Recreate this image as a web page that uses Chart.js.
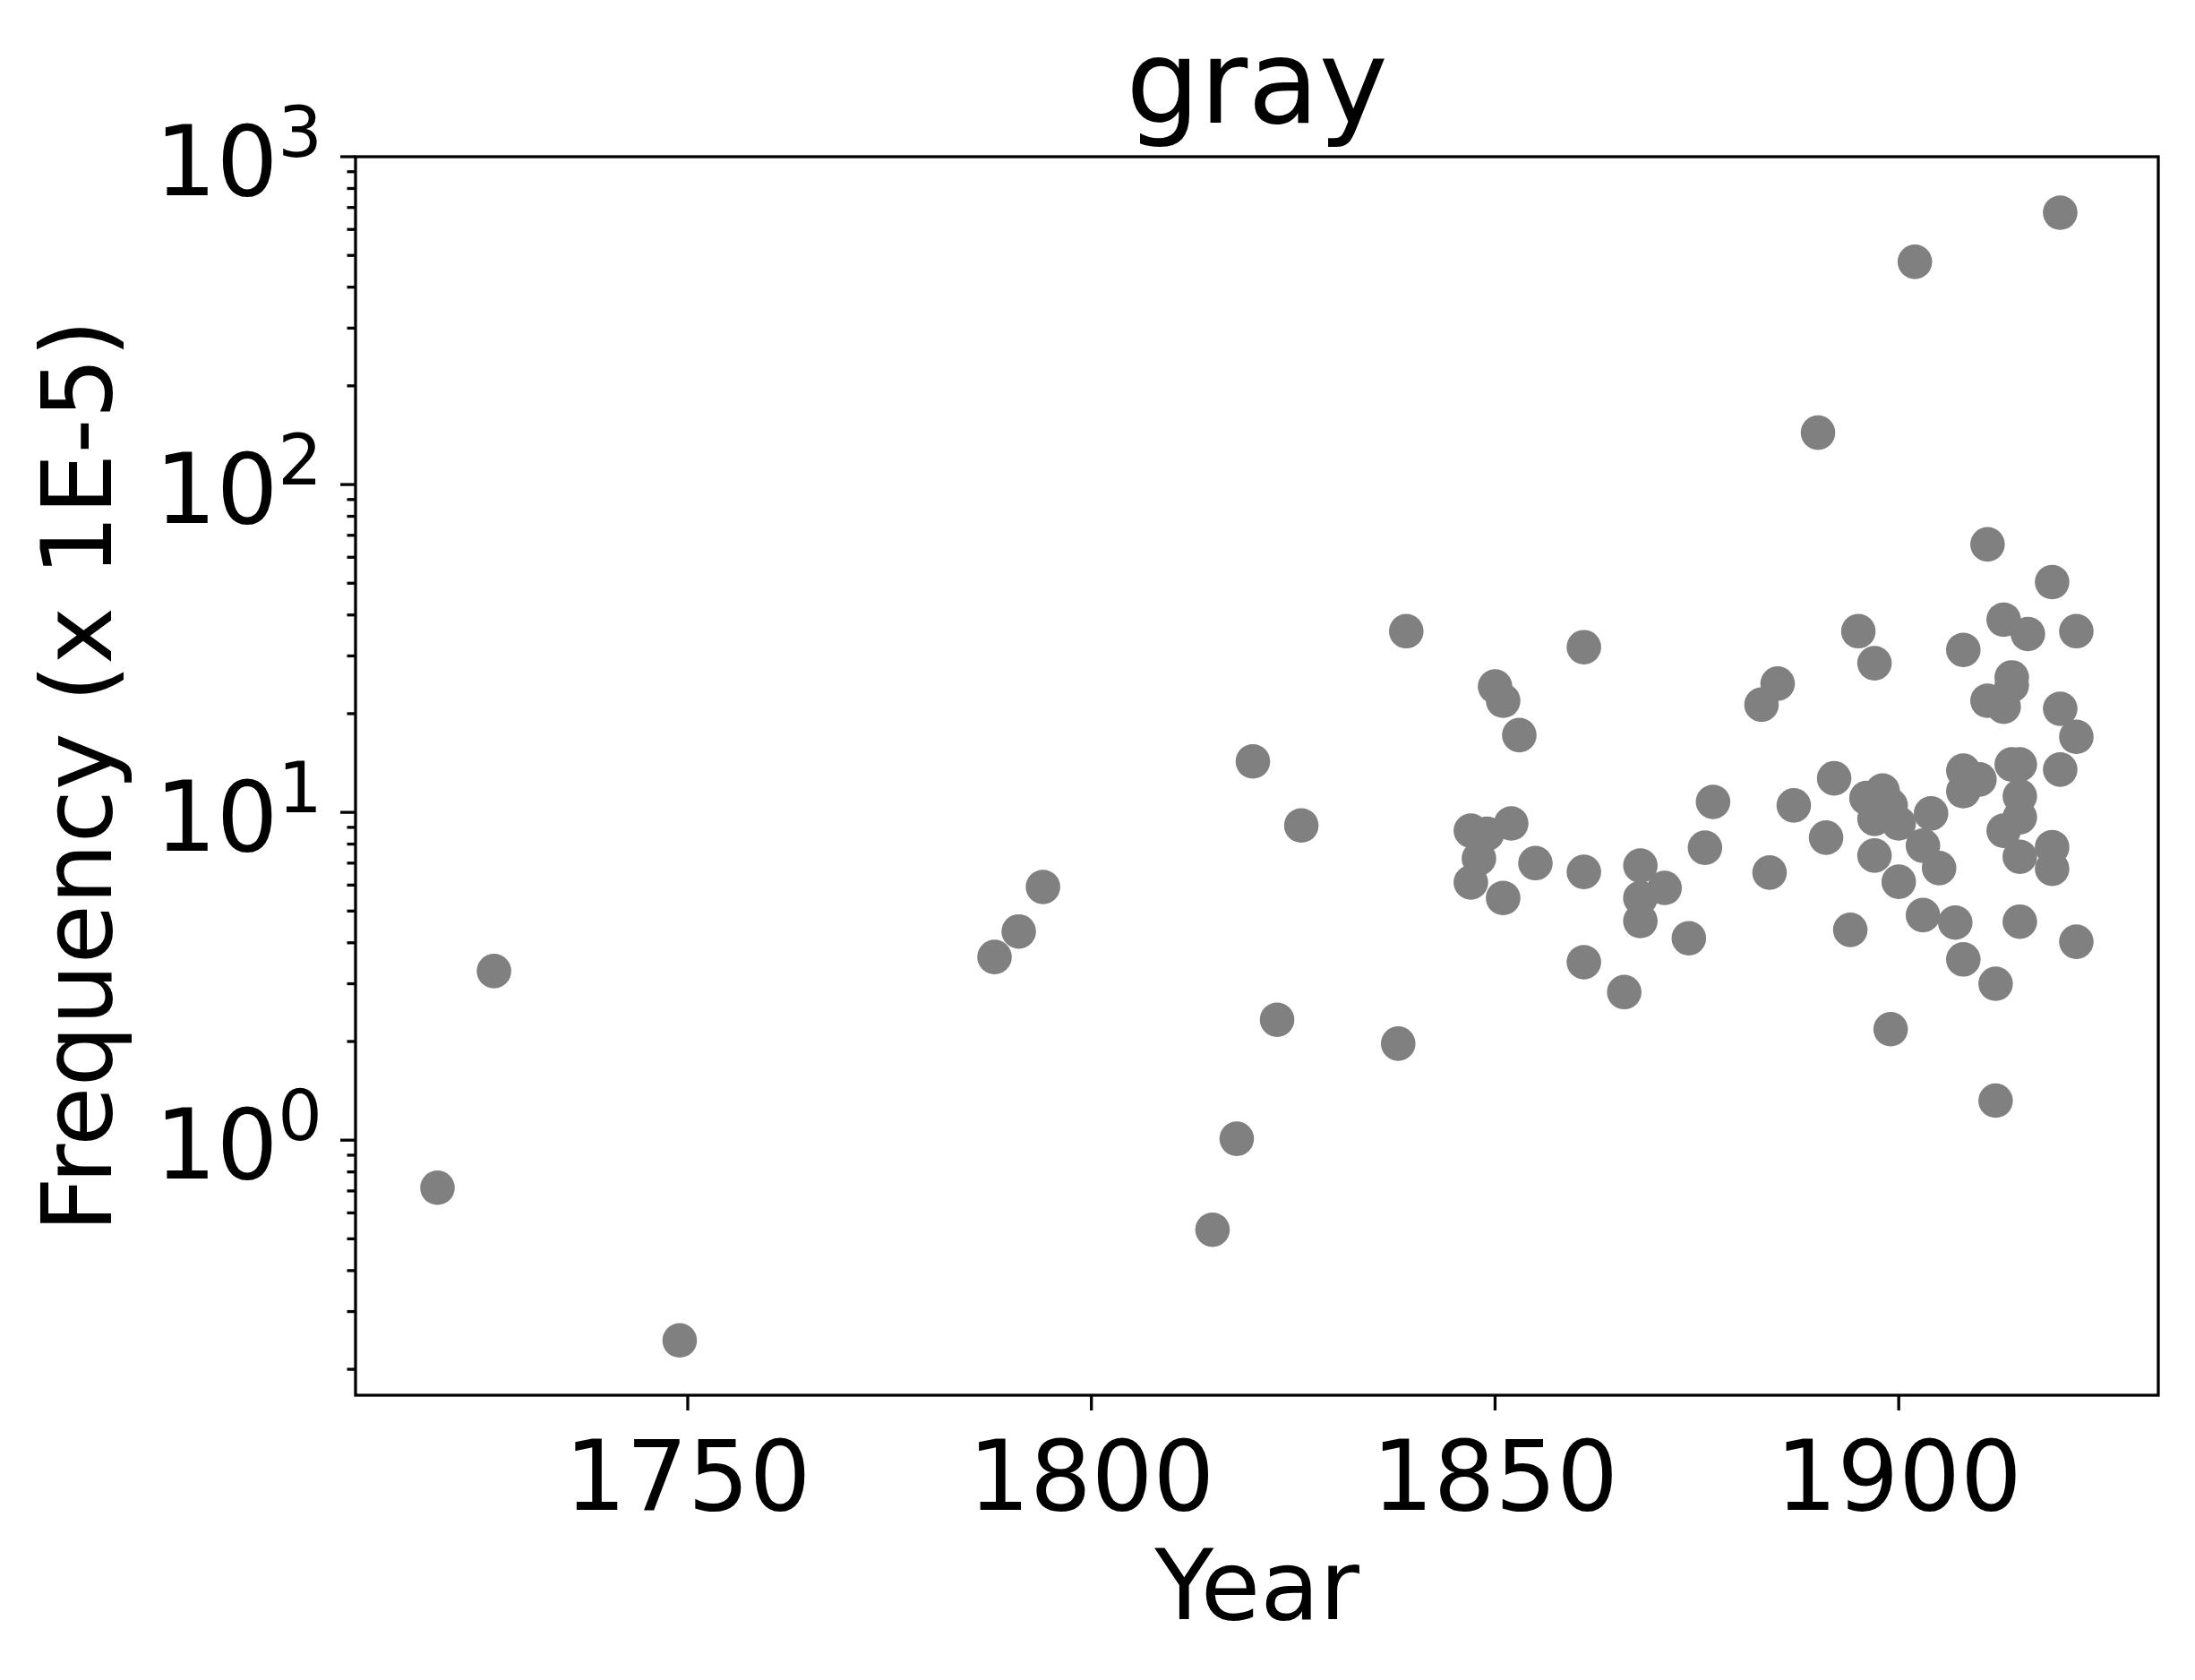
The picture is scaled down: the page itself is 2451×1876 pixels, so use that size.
<!DOCTYPE html>
<html>
<head>
<meta charset="utf-8">
<title>gray</title>
<script src="https://cdn.jsdelivr.net/npm/chart.js@4.4.0/dist/chart.umd.min.js"></script>
<style>
  html, body { margin: 0; padding: 0; background: #fff; }
  #wrap { width: 2451px; height: 1876px; }
</style>
</head>
<body>
<div id="wrap"><canvas id="grayChart" width="2451" height="1876"></canvas></div>
<script>
// values: year and frequency (x 1E-5)
const years = [
  1719, 1726, 1749, 1788, 1791, 1794, 1815, 1818, 1820, 1823,
  1826, 1838, 1839, 1847, 1849, 1852, 1848, 1847, 1850, 1851,
  1853, 1851, 1855, 1861, 1861, 1861, 1866, 1868, 1868, 1868,
  1871, 1874, 1876, 1877, 1883, 1884, 1885, 1887, 1890, 1891,
  1892, 1894, 1895, 1896, 1897, 1897, 1897, 1898, 1899, 1899,
  1900, 1900, 1902, 1903, 1903, 1904, 1905, 1907, 1908, 1908,
  1908, 1908, 1910, 1911, 1911, 1912, 1912, 1913, 1913, 1913,
  1914, 1914, 1914, 1915, 1915, 1915, 1915, 1915, 1916, 1919,
  1919, 1919, 1920, 1920, 1920, 1922, 1922, 1922
];
const freqs = [
  0.716, 3.28, 0.245, 3.62, 4.33, 5.92, 0.533, 1.01, 14.3, 2.33,
  9.12, 1.97, 35.7, 8.79, 8.60, 9.25, 7.23, 6.11, 24.2, 21.9,
  17.2, 5.48, 7.00, 31.9, 6.58, 3.49, 2.83, 6.88, 5.48, 4.66,
  5.88, 4.13, 7.80, 10.76, 21.3, 6.55, 24.7, 10.5, 144, 8.37,
  12.7, 4.38, 35.7, 11.06, 28.5, 7.38, 9.55, 11.65, 10.5, 2.18,
  9.25, 6.14, 478, 7.91, 4.86, 9.92, 6.76, 4.61, 31.3, 13.4,
  11.6, 3.56, 12.6, 65.7, 21.9, 3.00, 1.32, 38.7, 21.0, 8.79,
  25.8, 24.4, 14.0, 14.0, 11.2, 9.66, 7.32, 4.64, 35.0, 50.4,
  7.83, 6.73, 675, 20.7, 13.5, 35.7, 17.0, 4.03
];
const xTicks = [1750, 1800, 1850, 1900];
const yMajorTicks = [1, 10, 100, 1000];
const yMinorSteps = [2, 3, 4, 5, 6, 7, 8, 9];

const xMin = 1708.85, xMax = 1932.15;
const yMin = 0.1667, yMax = 1000;
const FONT = 'DejaVu Sans';

const points = years.map((x, i) => ({ x: x, y: freqs[i] }));

// log axis ticks: decades plus 2..9 in between
const yTickValues = [];
[0.1, 1, 10, 100].forEach(d => {
  yMinorSteps.forEach(s => {
    const v = +(d * s).toPrecision(3);
    if (v >= yMin) yTickValues.push(v);
  });
});
yMajorTicks.forEach(v => yTickValues.push(v));
yTickValues.sort((a, b) => a - b);

// box around the plot, tick marks (minor ones shorter), 10^n labels with a real superscript
const frameAndTicks = {
  id: 'frameAndTicks',
  afterDraw(chart) {
    const { ctx, chartArea: a, scales } = chart;
    ctx.save();
    ctx.strokeStyle = '#000';
    ctx.lineWidth = 3.3;
    scales.y.ticks.forEach(t => {
      const py = scales.y.getPixelForValue(t.value);
      const len = yMajorTicks.includes(t.value) ? 17 : 9.5;
      ctx.beginPath();
      ctx.moveTo(a.left - len, py);
      ctx.lineTo(a.left, py);
      ctx.stroke();
    });
    scales.x.ticks.forEach(t => {
      const px = scales.x.getPixelForValue(t.value);
      ctx.beginPath();
      ctx.moveTo(px, a.bottom);
      ctx.lineTo(px, a.bottom + 17);
      ctx.stroke();
    });
    ctx.strokeRect(a.left, a.top, a.right - a.left, a.bottom - a.top);

    ctx.fillStyle = '#000';
    ctx.textAlign = 'left';
    ctx.textBaseline = 'alphabetic';
    yMajorTicks.forEach(v => {
      const py = scales.y.getPixelForValue(v);
      const exp = String(Math.round(Math.log10(v)));
      ctx.font = '78px "' + FONT + '"';
      const wExp = ctx.measureText(exp).width;
      const expX = a.left - 37 - wExp;
      ctx.fillText(exp, expX, py);
      ctx.font = '108px "' + FONT + '"';
      const wBase = ctx.measureText('10').width;
      ctx.fillText('10', expX - wBase, py + 43);
    });
    ctx.restore();
  }
};

const chart = new Chart(document.getElementById('grayChart'), {
  type: 'scatter',
  data: {
    datasets: [{
      data: points,
      backgroundColor: '#808080',
      borderWidth: 0,
      pointRadius: 19.3,
      pointHoverRadius: 19.3
    }]
  },
  options: {
    responsive: false,
    devicePixelRatio: 1,
    animation: false,
    events: [],
    layout: { padding: { left: 0, right: 41, top: 0, bottom: 0 } },
    plugins: {
      legend: { display: false },
      tooltip: { enabled: false },
      title: {
        display: true,
        text: 'gray',
        fullSize: false,
        color: '#000',
        font: { family: FONT, size: 130, weight: 'normal', lineHeight: 1.1 },
        padding: { top: 32, bottom: 0 }
      }
    },
    scales: {
      x: {
        type: 'linear',
        position: 'bottom',
        min: xMin,
        max: xMax,
        afterBuildTicks: s => { s.ticks = xTicks.map(v => ({ value: v })); },
        afterFit: s => { s.height = 318; },
        grid: { display: false, drawTicks: false },
        border: { display: false },
        ticks: {
          autoSkip: false,
          maxRotation: 0,
          padding: 35,
          color: '#000',
          font: { family: FONT, size: 108 },
          callback: v => String(v)
        },
        title: {
          display: true,
          text: 'Year',
          color: '#000',
          font: { family: FONT, size: 108, weight: 'normal' },
          padding: { top: 0, bottom: 31 }
        }
      },
      y: {
        type: 'logarithmic',
        position: 'left',
        min: yMin,
        max: yMax,
        afterBuildTicks: s => { s.ticks = yTickValues.map(v => ({ value: v, major: yMajorTicks.includes(v) })); },
        afterFit: s => { s.width = 397; },
        grid: { display: false, drawTicks: false },
        border: { display: false },
        ticks: {
          autoSkip: false,
          padding: 42,
          // decade labels are drawn by frameAndTicks so the exponent can be raised
          callback: () => ''
        },
        title: {
          display: true,
          text: 'Frequency (x 1E-5)',
          color: '#000',
          font: { family: FONT, size: 108, weight: 'normal' },
          padding: { top: 31, bottom: 0 }
        }
      }
    }
  },
  plugins: [frameAndTicks]
});
</script>
</body>
</html>
